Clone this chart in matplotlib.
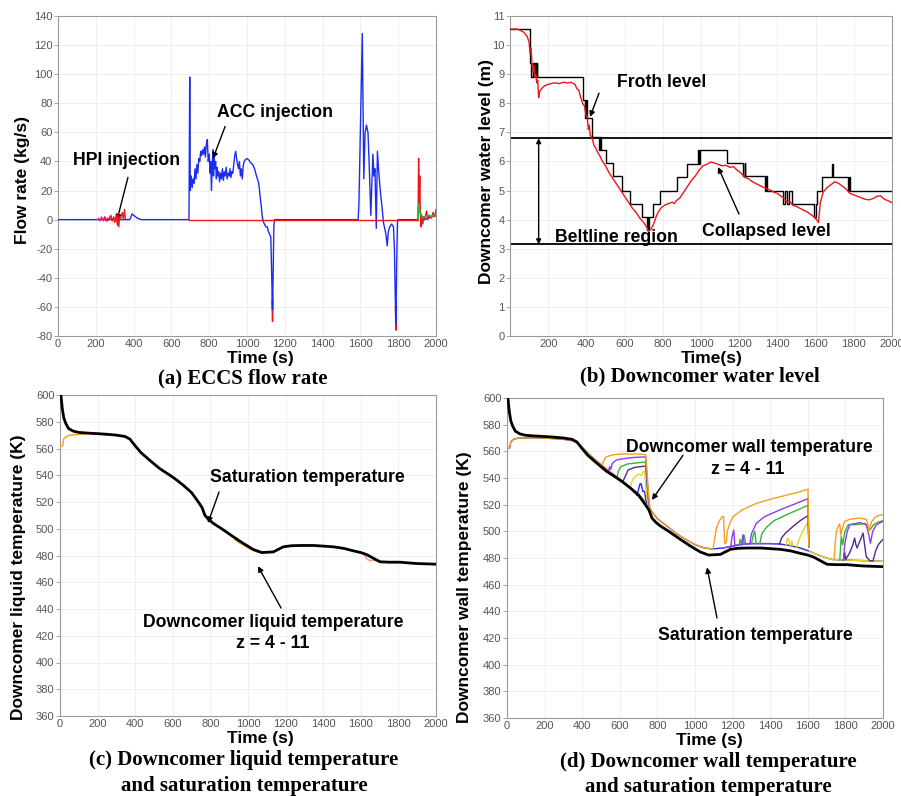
import numpy as np
import matplotlib
matplotlib.use('Agg')
import matplotlib.pyplot as plt

plt.rcParams['axes.unicode_minus'] = False

# ---------------- data ----------------
# (a) ECCS flow rate (time s, kg/s)
acc_flow = [(0,0),(380,0),(392,4),(400,3),(410,2),(420,1),(440,0),(693,0),(697,98),(700,20),(705,30),(710,22),(715,28),(720,25),(725,35),(730,28),(735,38),(740,32),(745,42),(750,40),(755,47),(760,44),(765,48),(770,45),(775,50),(780,43),(785,52),(790,55),(795,40),(800,45),(805,32),(808,40),(812,20),(816,38),(820,48),(823,30),(826,45),(830,35),(834,40),(838,28),(842,36),(846,30),(850,33),(855,26),(860,32),(865,28),(870,35),(875,27),(880,33),(885,30),(890,36),(895,28),(900,32),(905,30),(910,35),(915,29),(920,33),(925,32),(930,38),(935,44),(940,47),(945,42),(950,38),(955,35),(960,40),(965,30),(970,35),(975,28),(980,37),(985,40),(990,41),(1000,42),(1010,41),(1020,39),(1030,38),(1040,35),(1050,30),(1060,26),(1065,22),(1070,15),(1075,10),(1080,3),(1085,-1),(1092,-3),(1100,-5),(1108,-5),(1112,-8),(1120,-10),(1126,-12),(1131,-40),(1135,-62),(1138,-40),(1142,-5),(1145,0),(1588,0),(1592,10),(1610,128),(1618,28),(1625,60),(1632,65),(1640,60),(1646,40),(1655,3),(1662,30),(1666,45),(1672,30),(1677,35),(1684,-6),(1690,47),(1696,35),(1705,20),(1715,8),(1722,-2),(1735,-10),(1742,-18),(1748,-8),(1755,-5),(1765,-3),(1775,-5),(1780,-20),(1784,-50),(1788,-72),(1792,-30),(1796,-2),(1800,0),(1905,0),(1908,10),(1912,8),(1916,5),(1922,3),(1930,1),(1940,0),(1960,1),(1980,2),(2000,3)]
hpi_flow_magenta = [(210,0),(215,1),(222,-1),(230,2),(240,-1),(250,1),(262,-1),(275,2),(285,0),(295,1),(305,-1),(315,1),(325,0)]
hpi_flow_red = [(240,0),(248,2),(255,-1),(262,1),(270,0),(280,3),(287,-1),(295,2),(300,-2),(308,3),(314,-4),(318,4),(322,-5),(326,2),(332,1),(340,5),(346,0),(352,7),(356,1),(362,0)]
red_zero = [(695,0),(1905,0)]
red_tip1 = [(1132,-55),(1135,-70),(1138,-55)]
red_tip2 = [(1785,-60),(1788,-76),(1791,-60)]
red_end = [(1905,0),(1908,42),(1911,10),(1914,30),(1917,5),(1921,-5),(1925,2),(1930,-3),(1935,2),(1940,0),(1950,6),(1955,0),(1965,3),(1975,1),(1985,5),(1995,2),(2000,7)]
green_end = [(1906,0),(1909,11),(1913,7),(1920,4),(1930,1),(1940,2),(1960,3),(1980,2),(2000,4)]
green_tip = [(1133,-50),(1135,-60),(1137,-50)]

# (b) Downcomer water level (time s, m)
froth_level = [(0,10.55),(105,9.4),(110,8.9),(120,9.4),(125,8.9),(130,9.4),(135,8.9),(140,9.4),(143,8.9),(384,8.1),(395,7.5),(400,8.1),(405,7.5),(410,7.5),(427,6.85),(466,6.4),(472,6.85),(476,6.4),(500,5.95),(541,5.5),(588,5.0),(628,4.55),(690,4.1),(715,3.65),(720,4.1),(725,3.65),(730,4.1),(750,4.55),(785,5.0),(872,5.45),(928,5.9),(985,6.4),(990,5.9),(995,6.4),(1000,6.4),(1134,5.95),(1222,5.5),(1228,5.95),(1232,5.5),(1236,5.5),(1335,5.0),(1340,5.5),(1345,5.0),(1350,5.0),(1430,4.55),(1440,5.0),(1450,4.55),(1460,5.0),(1475,4.55),(1580,4.55),(1590,4.1),(1600,4.55),(1605,5.0),(1632,5.45),(1685,5.9),(1690,5.45),(1695,5.45),(1772,5.0),(1776,5.45),(1780,5.0),(2000,5.0)]
collapsed_level = [(0,10.55),(40,10.55),(70,10.45),(90,10.3),(100,10.1),(105,9.7),(110,9.9),(115,9.4),(120,9.1),(125,9.3),(130,8.9),(135,9.0),(140,8.7),(145,8.8),(150,8.2),(155,8.4),(165,8.5),(180,8.6),(200,8.65),(230,8.7),(260,8.68),(280,8.72),(300,8.7),(320,8.72),(340,8.65),(350,8.5),(360,8.45),(370,8.2),(380,8.0),(390,7.9),(398,7.6),(405,7.5),(410,7.1),(415,7.25),(420,6.9),(430,6.8),(440,6.55),(450,6.45),(460,6.3),(470,6.2),(480,6.05),(490,5.95),(500,5.85),(520,5.6),(540,5.4),(560,5.2),(580,5.0),(600,4.8),(620,4.6),(640,4.4),(660,4.25),(680,4.05),(700,3.9),(715,3.75),(725,3.6),(735,3.65),(745,3.75),(755,3.9),(765,4.1),(775,4.25),(790,4.4),(810,4.5),(830,4.55),(850,4.6),(860,4.55),(870,4.65),(890,4.75),(910,4.95),(930,5.15),(950,5.35),(970,5.5),(990,5.7),(1010,5.85),(1030,5.9),(1050,5.98),(1070,5.95),(1090,5.9),(1110,5.85),(1130,5.87),(1150,5.8),(1170,5.82),(1190,5.7),(1210,5.6),(1230,5.45),(1250,5.4),(1270,5.3),(1300,5.2),(1330,5.1),(1360,5.02),(1380,4.95),(1400,4.9),(1420,4.8),(1440,4.7),(1450,4.6),(1460,4.65),(1480,4.5),(1500,4.45),(1530,4.35),(1560,4.25),(1590,4.1),(1605,4.0),(1615,3.9),(1625,4.6),(1640,4.95),(1660,5.1),(1680,5.2),(1700,5.3),(1720,5.25),(1740,5.15),(1760,5.05),(1780,4.9),(1800,4.85),(1820,4.8),(1840,4.75),(1860,4.7),(1880,4.68),(1900,4.72),(1920,4.8),(1940,4.82),(1960,4.7),(1980,4.65),(2000,4.58)]
beltline_top = 6.8
beltline_bottom = 3.15

# (c)/(d) saturation temperature (time s, K)
sat_temp = [(0,615),(5,600),(12,590),(20,583),(30,579),(45,575),(70,573),(100,572),(150,571.5),(213,571),(260,570.5),(300,570),(346,569),(372,567),(400,562),(430,557),(479,551),(530,545),(585,540),(620,536.5),(656,532.5),(700,527),(736,520),(755,516),(771,510),(790,507),(816,504),(860,500),(922,494),(970,489.5),(1028,484.5),(1073,482.2),(1135,482.7),(1160,484.5),(1188,486.5),(1230,487.3),(1277,487.5),(1350,487.5),(1454,486.5),(1510,485.3),(1560,483.5),(1600,482.2),(1631,480.7),(1660,478.5),(1702,475.3),(1750,475),(1809,475),(1850,474.5),(1897,474),(2000,473.5)]
# (c) liquid temperature deviations
liq_start = [(0,561.5),(14,562),(18,566),(21,567.5),(35,569),(53,570),(100,570.5),(150,571),(213,570.5),(260,570.3),(300,569.8),(346,568.8)]
liq_dev1 = [(930,492),(950,490),(980,487.5),(1010,485),(1046,482.8),(1073,482.2)]
liq_dev2 = [(1620,480),(1635,477),(1650,476.2),(1670,476.5),(1700,475.3)]

# (d) wall temperature z = 4 - 11
wall_base = [(0,562),(14,562.5),(20,567),(35,569),(60,570),(200,570),(300,569),(350,568),(372,566.5),(400,563),(450,556),(500,550),(550,544.5),(600,539),(650,533.5),(700,528),(736,522),(760,517),(780,513),(800,509.5),(850,504),(900,498.5),(950,494),(1000,490),(1050,487.5),(1090,486.8),(1150,487.5),(1200,489),(1250,490.3),(1300,490.8),(1400,490.8),(1450,490.5),(1500,489.5),(1560,487.5),(1610,485),(1650,482.5),(1700,480),(1734,478.8),(1800,478.5),(1900,478),(2000,477.5)]
wall_orange = [
    [(505,549.5),(515,553),(525,555.5),(540,556.5),(570,557.5),(617,558),(700,558),(738,557.5),(745,545),(750,534),(755,525),(760,518)],
    [(1096,487),(1105,495),(1115,503),(1130,508),(1145,511),(1152,511),(1155,500),(1158,490.7),(1167,492),(1172,500),(1185,506),(1202,511),(1250,516),(1326,521),(1400,524),(1468,526.5),(1540,529),(1601,531.5),(1604,500),(1606,488.75)],
    [(1740,478.8),(1745,490),(1752,500),(1762,504),(1770,505.5),(1776,497),(1783,502),(1796,507.5),(1823,509),(1876,510),(1911,509),(1920,505),(1925,500),(1932,504),(1938,507),(1955,510),(1973,511.8),(2000,512.5)]]
wall_purple = [
    [(540,545),(546,548.5),(552,546.5),(560,551),(582,553.5),(620,554.5),(680,555.5),(738,555.8),(745,540),(752,526),(758,519)],
    [(1190,488),(1196,495),(1206,501),(1212,490),(1218,489.2)],
    [(1248,489.8),(1255,497.5),(1262,490.5)],
    [(1291,490.7),(1300,498),(1326,506),(1370,511),(1450,516),(1530,520.5),(1601,524.5),(1604,505),(1606,488.5)],
    [(1790,478.5),(1796,490),(1810,500),(1823,505),(1876,506.5),(1911,505),(1925,497),(1933,491),(1945,500),(1965,505),(2000,507.5)]]
wall_green = [
    [(585,540),(592,545),(605,548.5),(640,550.5),(700,551.5),(738,552),(745,538),(752,525),(758,519)],
    [(1235,490),(1240,494),(1248,490),(1256,496),(1262,497),(1270,490.5)],
    [(1300,490.8),(1310,497),(1318,500),(1325,491)],
    [(1345,490.8),(1355,498),(1380,503),(1420,508),(1504,513.5),(1560,517),(1601,519.5),(1604,503),(1606,488.5)],
    [(1770,478.5),(1778,496),(1785,490),(1798,500),(1815,505),(1860,505),(1905,506),(1930,501),(1950,505),(1975,507),(2000,508)]]
wall_darkpurple = [
    [(615,537),(625,540),(644,546),(680,548),(738,549),(745,536),(752,524),(758,519)],
    [(1450,490.5),(1460,495),(1480,498.5),(1520,503.5),(1560,508),(1601,511.8),(1604,498),(1606,488.5)],
    [(1790,478.5),(1796,484),(1802,479),(1823,484),(1840,490),(1849,495),(1856,490),(1862,487.5),(1875,492),(1894,498.7),(1902,490),(1911,481),(1930,478),(1947,477.8),(1960,485),(1975,490),(2000,494)]]
wall_yellow = [
    [(655,532),(661,536),(670,539),(679,540.5),(700,543),(715,542),(725,545),(732,545),(740,530),(750,520)],
    [(1485,490),(1492,495),(1500,494),(1503,490)],
    [(1510,489.5),(1515,493),(1520,489.5)],
    [(1540,488),(1548,492),(1560,496),(1580,502),(1601,506.8),(1604,495),(1606,488)]]
wall_blue = [
    [(690,527),(697,530),(708,535.7),(714,535.5),(722,530),(732,530),(738,524),(745,521)]]

time_ticks = list(range(0, 2001, 200))
flow_ticks = list(range(-80, 141, 20))
level_ticks = list(range(0, 12))
temp_ticks = list(range(360, 601, 20))

# ---------------- styling ----------------
W, H = 901, 796
fig = plt.figure(figsize=(W/100, H/100), dpi=100)

C_ORANGE = '#f5a01e'
C_PURPLE = '#8a3cf0'
C_GREEN = '#35b535'
C_DPURPLE = '#56288a'
C_YELLOW = '#f0d020'
C_BLUE = '#1c2cf0'
C_RED = '#f01418'
C_MAG = '#e0208a'

TICKFONT = dict(family=['Liberation Sans Narrow', 'Liberation Sans'], size=8, color='#555555')
LABFONT = dict(family=['Liberation Sans', 'DejaVu Sans'], weight='bold', size=12.5, color='black')
ANNFONT = dict(family=['Liberation Sans', 'DejaVu Sans'], weight='bold', size=12.7, color='black')
CAPFONT = dict(family=['Liberation Serif', 'DejaVu Serif'], weight='bold', size=15, color='black')


def rect(l, t, r, b):
    return [l / W, 1 - b / H, (r - l) / W, (b - t) / H]


def fpos(x, y):
    return (x / W, 1 - y / H)


def xy(pairs):
    t = [p[0] for p in pairs]
    v = [p[1] for p in pairs]
    return t, v


def seg(pairs, t0, t1):
    return [p for p in pairs if t0 <= p[0] <= t1]


def style(ax, xlim, ylim, xticks, yticks):
    ax.set_xlim(*xlim)
    ax.set_ylim(*ylim)
    ax.set_xticks(xticks)
    ax.set_yticks(yticks)
    ax.grid(True, color='#ececec', lw=0.6)
    ax.set_axisbelow(True)
    for s in ax.spines.values():
        s.set_color('#9a9a9a')
        s.set_linewidth(0.8)
    ax.tick_params(axis='y', length=3, width=0.6, color='#9a9a9a', pad=1)
    ax.tick_params(axis='x', length=0, pad=2)
    for lab in ax.get_xticklabels() + ax.get_yticklabels():
        lab.set_fontfamily(TICKFONT['family'])
        lab.set_fontsize(TICKFONT['size'])
        lab.set_color(TICKFONT['color'])


def arrow(ax, text_xy, head_xy):
    ax.annotate('', xy=head_xy, xytext=text_xy,
                arrowprops=dict(arrowstyle='-|>', color='black', lw=1.0, mutation_scale=8,
                                shrinkA=0, shrinkB=0))

# ---------------- (a) ----------------
ax = fig.add_axes(rect(58, 16, 436, 336))
ax.plot(*xy(acc_flow), color=C_BLUE, lw=1.0, zorder=3)
ax.plot(*xy(hpi_flow_magenta), color=C_MAG, lw=0.9, zorder=4)
ax.plot(*xy(hpi_flow_red), color=C_RED, lw=0.9, zorder=4)
ax.plot(*xy(red_zero), color=C_RED, lw=1.0, zorder=4)
ax.plot(*xy(red_tip1), color=C_RED, lw=1.0, zorder=2)
ax.plot(*xy(red_tip2), color=C_RED, lw=1.0, zorder=2)
ax.plot(*xy(green_tip), color=C_GREEN, lw=1.0, zorder=2.5)
ax.plot(*xy(red_end), color=C_RED, lw=1.0, zorder=4)
ax.plot(*xy(green_end), color=C_GREEN, lw=1.0, zorder=4.5)
style(ax, (0, 2000), (-80, 140), time_ticks, flow_ticks)
ax.text(365, 41, 'HPI injection', ha='center', va='center', **ANNFONT)
arrow(ax, (370, 29), (312, -0.5))
ax.text(1148, 74, 'ACC injection', ha='center', va='center', **ANNFONT)
arrow(ax, (884, 64), (820, 42))
fig.text(*fpos(23, 180), 'Flow rate (kg/s)', rotation=90, ha='center', va='center', **LABFONT)
fig.text(*fpos(260, 359), 'Time (s)', ha='center', va='center', **LABFONT)
fig.text(*fpos(243, 378), '(a) ECCS flow rate', ha='center', va='center', **CAPFONT)

# ---------------- (b) ----------------
ax = fig.add_axes(rect(510, 16, 892, 336))
ax.axhline(beltline_top, color='black', lw=1.3, zorder=2)
ax.axhline(beltline_bottom, color='black', lw=1.3, zorder=2)
ft, fv = xy(froth_level)
ax.plot(ft, fv, color='black', lw=1.0, drawstyle='steps-post', zorder=3)
ax.plot(*xy(collapsed_level), color=C_RED, lw=1.0, zorder=4)
style(ax, (0, 2000), (0, 11), time_ticks[1:], level_ticks)
ax.annotate('', xy=(150, beltline_bottom), xytext=(150, beltline_top),
            arrowprops=dict(arrowstyle='<|-|>', color='black', lw=1.0, mutation_scale=7,
                            shrinkA=0, shrinkB=0))
ax.text(796, 8.73, 'Froth level', ha='center', va='center', **ANNFONT)
arrow(ax, (466, 8.35), (419, 7.53))
ax.text(1340, 3.58, 'Collapsed level', ha='center', va='center', **ANNFONT)
arrow(ax, (1199, 4.19), (1089, 5.81))
ax.text(555, 3.40, 'Beltline region', ha='center', va='center', **ANNFONT)
fig.text(*fpos(486, 172), 'Downcomer water level (m)', rotation=90, ha='center', va='center', **LABFONT)
fig.text(*fpos(712, 359), 'Time(s)', ha='center', va='center', **LABFONT)
fig.text(*fpos(700, 376), '(b) Downcomer water level', ha='center', va='center', **CAPFONT)

# ---------------- (c) ----------------
ax = fig.add_axes(rect(60, 395, 436, 716))
ax.plot(*xy(liq_start), color=C_ORANGE, lw=1.0, zorder=3)
ax.plot(*xy(liq_dev1), color=C_ORANGE, lw=1.2, zorder=3)
ax.plot(*xy(liq_dev2), color='#f0a080', lw=1.2, zorder=3)
ax.plot(*xy(sat_temp), color='black', lw=2.0, zorder=4)
style(ax, (0, 2000), (360, 600), time_ticks, temp_ticks)
ax.text(1314, 538, 'Saturation temperature', ha='center', va='center', **ANNFONT)
arrow(ax, (846, 527.5), (787, 504.3))
ax.text(1133, 430, 'Downcomer liquid temperature', ha='center', va='center', **ANNFONT)
ax.text(1133, 414, 'z = 4 - 11', ha='center', va='center', **ANNFONT)
arrow(ax, (1176, 440.7), (1053, 472))
fig.text(*fpos(19, 577), 'Downcomer liquid temperature (K)', rotation=90, ha='center', va='center', **LABFONT)
fig.text(*fpos(260, 738), 'Time (s)', ha='center', va='center', **LABFONT)
fig.text(*fpos(244, 760), '(c) Downcomer liquid temperature', ha='center', va='center', **CAPFONT)
fig.text(*fpos(244, 786), 'and saturation temperature', ha='center', va='center', **CAPFONT)

# ---------------- (d) ----------------
ax = fig.add_axes(rect(507, 398, 883, 718))
ax.plot(*xy(wall_base), color=C_BLUE, lw=1.0, zorder=2)
ax.plot(*xy(seg(wall_base, 0, 1100)), color=C_ORANGE, lw=1.0, zorder=2.2)
ax.plot(*xy(seg(wall_base, 1100, 1450)), color=C_PURPLE, lw=1.0, zorder=2.2)
ax.plot(*xy(seg(wall_base, 1610, 2000)), color=C_YELLOW, lw=1.0, zorder=2.2)
for segs, col, z in [(wall_blue, C_BLUE, 3.0), (wall_yellow, C_YELLOW, 3.1),
                     (wall_darkpurple, C_DPURPLE, 3.2), (wall_green, C_GREEN, 3.3),
                     (wall_purple, C_PURPLE, 3.4), (wall_orange, C_ORANGE, 3.5)]:
    for s in segs:
        ax.plot(*xy(s), color=col, lw=1.0, zorder=z)
ax.plot(*xy(sat_temp), color='black', lw=2.0, zorder=4)
style(ax, (0, 2000), (360, 600), time_ticks, temp_ticks)
ax.text(1287, 563, 'Downcomer wall temperature', ha='center', va='center', **ANNFONT)
ax.text(1282, 546.5, 'z = 4 - 11', ha='center', va='center', **ANNFONT)
arrow(ax, (936, 557), (771, 523.5))
ax.text(1319, 422, 'Saturation temperature', ha='center', va='center', **ANNFONT)
arrow(ax, (1117, 435), (1064, 473))
fig.text(*fpos(465, 587), 'Downcomer wall temperature (K)', rotation=90, ha='center', va='center', **LABFONT)
fig.text(*fpos(709, 741), 'Time (s)', ha='center', va='center', **LABFONT)
fig.text(*fpos(708, 762), '(d) Downcomer wall temperature', ha='center', va='center', **CAPFONT)
fig.text(*fpos(708, 787), 'and saturation temperature', ha='center', va='center', **CAPFONT)

fig.savefig('out.png', dpi=100, facecolor='white')
